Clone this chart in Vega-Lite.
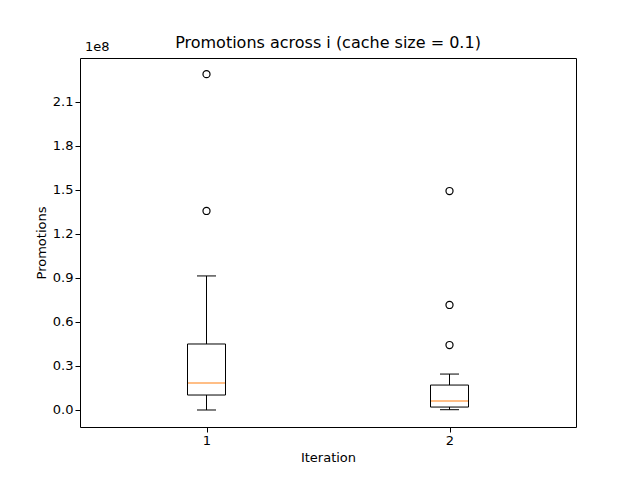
{
  "$schema": "https://vega.github.io/schema/vega-lite/v6.json",
  "width": 496,
  "height": 369,
  "autosize": "none",
  "padding": {"left": 80, "top": 58, "right": 64, "bottom": 53},
  "background": "white",
  "title": {"text": "Promotions across i (cache size = 0.1)", "font": "DejaVu Sans", "fontSize": 16, "fontWeight": "normal", "offset": -10},
  "config": {
    "view": {"stroke": "black", "strokeWidth": 1},
    "axis": {"grid": false, "domain": false, "labelFont": "DejaVu Sans", "titleFont": "DejaVu Sans", "labelFontSize": 13, "titleFontSize": 13, "titleFontWeight": "normal", "tickColor": "black", "labelColor": "black", "titleColor": "black", "tickSize": 5}
  },
  "datasets": {
    "boxes": [
      {"iteration": 1, "min": 0, "q1": 10200000, "median": 18400000, "q3": 45000000, "max": 91400000},
      {"iteration": 2, "min": 200000, "q1": 2000000, "median": 6100000, "q3": 17000000, "max": 24500000}
    ],
    "outliers": [
      {"iteration": 1, "value": 229000000},
      {"iteration": 1, "value": 135700000},
      {"iteration": 2, "value": 149300000},
      {"iteration": 2, "value": 71600000},
      {"iteration": 2, "value": 44300000}
    ]
  },
  "encoding": {
    "x": {"type": "quantitative", "scale": {"domain": [0.5, 2.5]}, "axis": {"title": "Iteration", "values": [1, 2], "format": "d"}}
  },
  "layer": [
    {
      "data": {"name": "boxes"},
      "mark": {"type": "rule", "color": "black", "opacity": 1},
      "encoding": {
        "x": {"field": "iteration"},
        "y": {"field": "min", "type": "quantitative", "scale": {"domain": [-11600000, 240000000], "nice": false, "zero": false},
          "axis": {"title": "Promotions", "values": [0, 30000000, 60000000, 90000000, 120000000, 150000000, 180000000, 210000000], "labelExpr": "format(datum.value/1e8, '.1f')"}},
        "y2": {"field": "max"}
      }
    },
    {
      "data": {"name": "boxes"},
      "mark": {"type": "bar", "size": 38, "fill": "white", "stroke": "black", "strokeWidth": 1, "opacity": 1},
      "encoding": {"x": {"field": "iteration"}, "y": {"field": "q1", "type": "quantitative"}, "y2": {"field": "q3"}}
    },
    {
      "data": {"name": "boxes"},
      "mark": {"type": "tick", "orient": "horizontal", "size": 19, "color": "black", "thickness": 1, "opacity": 1},
      "encoding": {"x": {"field": "iteration"}, "y": {"field": "max", "type": "quantitative"}}
    },
    {
      "data": {"name": "boxes"},
      "mark": {"type": "tick", "orient": "horizontal", "size": 19, "color": "black", "thickness": 1, "opacity": 1},
      "encoding": {"x": {"field": "iteration"}, "y": {"field": "min", "type": "quantitative"}}
    },
    {
      "data": {"name": "boxes"},
      "mark": {"type": "tick", "orient": "horizontal", "size": 37, "color": "#ff7f0e", "thickness": 1, "opacity": 1},
      "encoding": {"x": {"field": "iteration"}, "y": {"field": "median", "type": "quantitative"}}
    },
    {
      "data": {"name": "outliers"},
      "mark": {"type": "point", "shape": "circle", "size": 50, "stroke": "black", "strokeWidth": 1.2, "filled": false, "opacity": 1},
      "encoding": {"x": {"field": "iteration"}, "y": {"field": "value", "type": "quantitative"}}
    },
    {
      "data": {"values": [{"label": "1e8"}]},
      "mark": {"type": "text", "font": "DejaVu Sans", "fontSize": 13, "align": "left", "baseline": "bottom", "dy": -4, "color": "black"},
      "encoding": {"x": {"datum": 0.5}, "y": {"datum": 240000000}, "text": {"field": "label"}}
    }
  ]
}
